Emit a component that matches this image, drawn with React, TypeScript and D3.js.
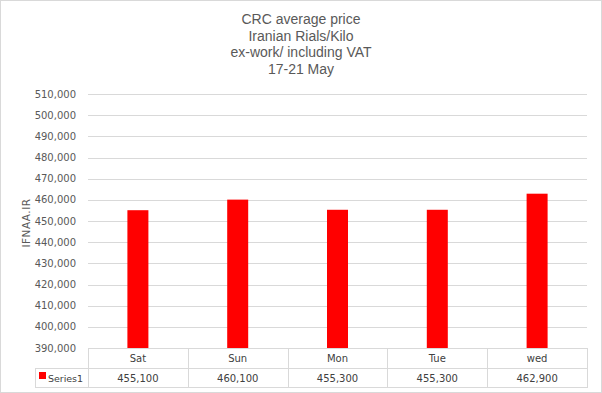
import * as d3 from "d3";
import { useEffect, useRef } from "react";

const titleLines = ["CRC average price", "Iranian Rials/Kilo", "ex-work/ including VAT", "17-21 May"];
const days = ["Sat", "Sun", "Mon", "Tue", "wed"];
const prices = [455100, 460100, 455300, 455300, 462900];
const seriesName = "Series1";
const yTicks = d3.range(390000, 510001, 10000);
const yLabel = "IFNAA.IR";

function App() {
	const ref = useRef<SVGSVGElement>(null);

	useEffect(() => {
		const width = 602;
		const height = 393;
		const svg = d3.select(ref.current);
		svg.selectAll("*").remove();
		svg.attr("width", width).attr("height", height);

		const font = "'DejaVu Sans', Verdana, sans-serif";
		const grid = "#d9d9d9";
		const left = 88, right = 587, top = 94, bottom = 348;
		const tableLeft = 35, row1 = 368, row2 = 387;

		// chart frame
		svg.append("rect")
			.attr("x", 0.5).attr("y", 0.5)
			.attr("width", width - 1).attr("height", height - 1)
			.attr("fill", "#fff").attr("stroke", grid);

		// title
		svg.append("g")
			.selectAll("text")
			.data(titleLines)
			.enter()
			.append("text")
			.attr("x", 301)
			.attr("y", (d, i) => 24 + i * 16.7)
			.attr("text-anchor", "middle")
			.attr("font-family", "'Liberation Sans', Arial, sans-serif")
			.attr("font-size", 14)
			.attr("fill", "#595959")
			.text((d) => d);

		const x = d3.scaleBand().domain(days).range([left, right]);
		const y = d3.scaleLinear().domain([390000, 510000]).range([bottom, top]);
		const fmt = d3.format(",");

		// gridlines
		svg.append("g")
			.selectAll("line")
			.data(yTicks.filter((t) => t > 390000))
			.enter()
			.append("line")
			.attr("x1", left).attr("x2", right)
			.attr("y1", (d) => Math.round(y(d)) + 0.5)
			.attr("y2", (d) => Math.round(y(d)) + 0.5)
			.attr("stroke", grid);

		// tick labels
		svg.append("g")
			.selectAll("text")
			.data(yTicks)
			.enter()
			.append("text")
			.attr("x", 76)
			.attr("y", (d) => y(d) + 3.5)
			.attr("text-anchor", "end")
			.attr("font-family", font)
			.attr("font-size", 10)
			.attr("fill", "#595959")
			.text((d) => fmt(d));

		// axis title
		svg.append("text")
			.attr("transform", "translate(30," + ((top + bottom) / 2 + 2) + ") rotate(-90)")
			.attr("text-anchor", "middle")
			.attr("font-family", font)
			.attr("font-size", 10.5)
			.attr("letter-spacing", 0.5)
			.attr("fill", "#595959")
			.text(yLabel);

		// bars
		const barW = 21;
		svg.append("g")
			.selectAll("rect")
			.data(days)
			.enter()
			.append("rect")
			.attr("x", (d) => x(d)! + x.bandwidth() / 2 - barW / 2)
			.attr("y", (d, i) => y(prices[i]))
			.attr("width", barW)
			.attr("height", (d, i) => bottom - y(prices[i]))
			.attr("fill", "#ff0000");

		// data table
		const t = svg.append("g").attr("stroke", grid).attr("fill", "none");
		t.append("line").attr("x1", left).attr("x2", right).attr("y1", bottom + 0.5).attr("y2", bottom + 0.5);
		t.append("line").attr("x1", tableLeft).attr("x2", right).attr("y1", row1 + 0.5).attr("y2", row1 + 0.5);
		t.append("line").attr("x1", tableLeft).attr("x2", right).attr("y1", row2 + 0.5).attr("y2", row2 + 0.5);
		t.append("line").attr("x1", tableLeft + 0.5).attr("x2", tableLeft + 0.5).attr("y1", row1).attr("y2", row2 + 1);
		t.selectAll(".sep")
			.data([...days.map((d) => x(d)!), right])
			.enter()
			.append("line")
			.attr("x1", (d) => Math.round(d) + 0.5)
			.attr("x2", (d) => Math.round(d) + 0.5)
			.attr("y1", bottom)
			.attr("y2", row2 + 1);

		svg.append("g")
			.selectAll("text")
			.data(days)
			.enter()
			.append("text")
			.attr("x", (d) => x(d)! + x.bandwidth() / 2)
			.attr("y", bottom + 14)
			.attr("text-anchor", "middle")
			.attr("font-family", font)
			.attr("font-size", 10)
			.attr("fill", "#404040")
			.text((d) => d);

		svg.append("g")
			.selectAll("text")
			.data(days)
			.enter()
			.append("text")
			.attr("x", (d) => x(d)! + x.bandwidth() / 2)
			.attr("y", row1 + 14)
			.attr("text-anchor", "middle")
			.attr("font-family", font)
			.attr("font-size", 10)
			.attr("fill", "#404040")
			.text((d, i) => fmt(prices[i]));

		// legend key
		svg.append("rect")
			.attr("x", 39).attr("y", 372)
			.attr("width", 7).attr("height", 7)
			.attr("fill", "#ff0000");
		svg.append("text")
			.attr("x", 48)
			.attr("y", row1 + 14)
			.attr("font-family", font)
			.attr("font-size", 9.5)
			.attr("textLength", 35)
			.attr("fill", "#404040")
			.text(seriesName);
	}, []);

	return (
		<div style={{ position: "absolute", left: 0, top: 0 }}>
			<svg ref={ref} style={{ display: "block" }}></svg>
		</div>
	);
}
export default App;
